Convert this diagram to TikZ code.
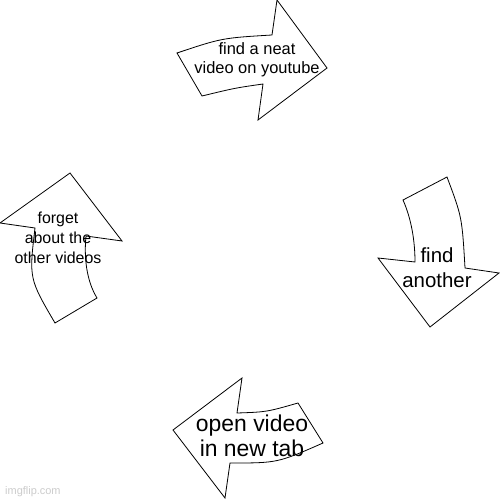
\documentclass[tikz,border=0pt]{standalone}
\usepackage{fontspec}
\setmainfont{Liberation Sans}
\begin{document}
\begin{tikzpicture}[x=1bp,y=-1bp,
  arrowshape/.style={draw=black,fill=white,line width=0.8bp,line join=miter},
  lbl/.style={align=center,inner sep=0pt,text=black}]
\fill[white] (0,0) rectangle (500,500);
\useasboundingbox (0,0) rectangle (500,500);
% top arrow
\path[arrowshape] (177,53) .. controls (222,38) .. (272,35) -- (277,0) -- (327,68)
  -- (258,120) -- (263,84) .. controls (235,88) .. (202,96) -- cycle;
% right arrow
\path[arrowshape] (403,200) -- (447,177) .. controls (462,217) .. (465,268)
  -- (499,273) -- (430,327) -- (378,258) -- (415,262) .. controls (415,240) and (411,218) .. cycle;
% bottom arrow
\path[arrowshape] (173,430) -- (242,378) -- (237,413) .. controls (266.5,412) .. (298,403)
  -- (323,443) .. controls (277.5,463) .. (230,463) -- (225,498) -- cycle;
% left arrow
\path[arrowshape] (70,173) -- (122,241) -- (86,236) .. controls (84,256) and (86,280) .. (97,298)
  -- (55,323) .. controls (29,278.5) .. (35,228) -- (0,223) -- cycle;
% labels
\node[lbl,font=\fontsize{16.5}{19}\selectfont] (t1) at (257,60) {find a neat\\video on youtube};
\node[lbl,font=\fontsize{20.5}{25}\selectfont] (t2) at (437,268) {find\\another};
\node[lbl,font=\fontsize{23}{25}\selectfont] (t3) at (252,436) {open video\\in new tab};
\node[lbl,font=\fontsize{16}{20}\selectfont] (t4) at (58,238) {forget\\about the\\other videos};
\node[anchor=base west,inner sep=0pt,text=black!20,font=\fontsize{11}{13}\selectfont] (wm) at (5,494) {imgflip.com};
\end{tikzpicture}
\end{document}
